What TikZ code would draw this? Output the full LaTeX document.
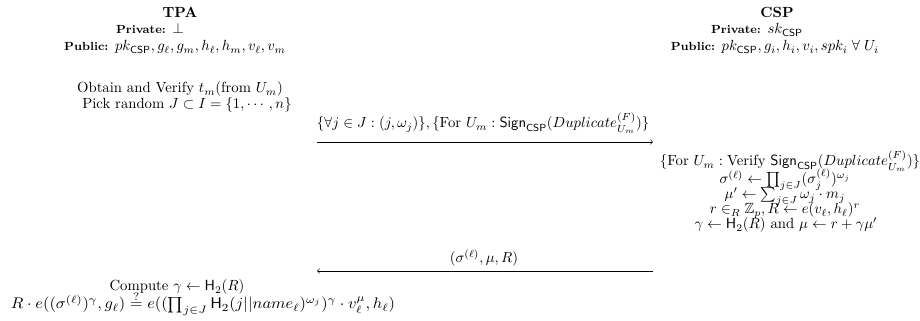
\documentclass[tikz,border=0pt]{standalone}
\usepackage{amsmath,amssymb}
\usepackage{graphicx}
\begin{document}
\begin{tikzpicture}[x=0.68pt,y=-0.68pt,
  txt/.style={inner sep=0pt,anchor=base},
  msg/.style={->,line width=0.4pt}]
\useasboundingbox (0,0) rectangle (920,321);
% TPA column
\node[txt] (tpa) at (180,18) {\textbf{TPA}};
\node[txt] (tpapriv) at (150,34) {{\footnotesize\bfseries Private:} $\bot$};
\node[txt] (tpapub) at (175,51) {{\footnotesize\bfseries Public:} $pk_{\mathsf{CSP}},g_\ell,g_m,h_\ell,h_m,v_\ell,v_m$};
\node[txt] (obtain) at (180,93) {Obtain and Verify $t_m$(from $U_m$)};
\node[txt] (pick) at (187,109) {Pick random $J\subset I=\{1,\cdots,n\}$};
% CSP column
\node[txt] (csp) at (777,18) {\textbf{CSP}};
\node[txt] (csppriv) at (757,34) {{\footnotesize\bfseries Private:} $sk_{\mathsf{CSP}}$};
\node[txt] (csppub) at (775,51) {{\footnotesize\bfseries Public:} $pk_{\mathsf{CSP}},g_i,h_i,v_i,spk_i\;\forall\;U_i$};
% message 1
\coordinate (a1s) at (317,142);
\coordinate (a1e) at (653,142);
\draw[msg] (a1s) -- (a1e);
\node[txt] (m1) at (483,128) {$\{\forall j\in J:(j,\omega_j)\},\{\text{For }U_m:\mathsf{Sign}_{\mathsf{CSP}}(Duplicate^{(F)}_{U_m})\}$};
% CSP computation
\node[txt] (c1) at (790,166) {$\{\text{For }U_m:\text{Verify }\mathsf{Sign}_{\mathsf{CSP}}(Duplicate^{(F)}_{U_m})\}$};
\node[txt] (c2) at (785,184) {$\sigma^{(\ell)}\leftarrow\prod_{j\in J}(\sigma_j^{(\ell)})^{\omega_j}$};
\node[txt] (c3) at (785,199) {$\mu'\leftarrow\sum_{j\in J}\omega_j\cdot m_j$};
\node[txt] (c4) at (785,214) {$r\in_R\mathbb{Z}_p,R\leftarrow e(v_\ell,h_\ell)^r$};
\node[txt] (c5) at (786,229) {$\gamma\leftarrow\mathsf{H}_2(R)$ and $\mu\leftarrow r+\gamma\mu'$};
% message 2
\coordinate (a2s) at (653,271);
\coordinate (a2e) at (317,271);
\draw[msg] (a2s) -- (a2e);
\node[txt] (m2) at (484,263) {$(\sigma^{(\ell)},\mu,R)$};
% TPA verification
\node[txt] (comp) at (177,291) {Compute $\gamma\leftarrow\mathsf{H}_2(R)$};
\node[txt] (ver) at (203,309) {\scalebox{1.12}[1.05]{$R\cdot e((\sigma^{(\ell)})^\gamma,g_\ell)\stackrel{?}{=}e((\prod_{j\in J}\mathsf{H}_2(j||name_\ell)^{\omega_j})^\gamma\cdot v_\ell^\mu,h_\ell)$}};
\end{tikzpicture}
\end{document}
